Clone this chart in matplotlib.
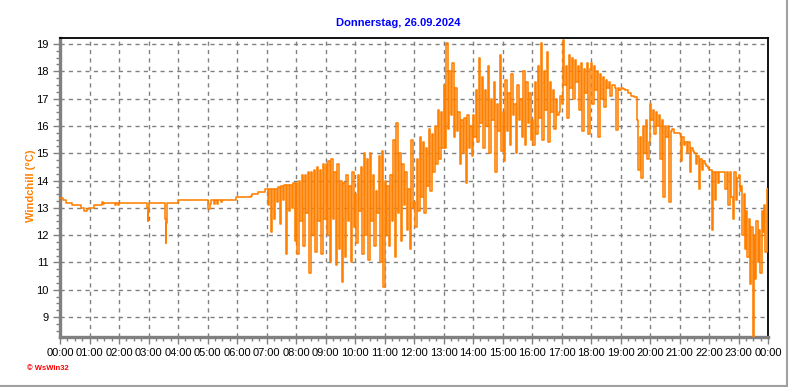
import matplotlib
matplotlib.use('Agg')
import matplotlib.pyplot as plt
from matplotlib.ticker import MultipleLocator
from matplotlib.lines import Line2D

titel = "Donnerstag, 26.09.2024"
y_titel = "Windchill (°C)"
copyright_text = "© WsWin32"

# ruhige Phase 00:00 - 07:00 (Uhrzeit und Wert)
ruhig_zeit = ["00:00", "00:06", "00:12", "00:24", "00:42", "00:49", "00:55", "00:59",
              "01:09", "01:26", "01:28", "01:30", "01:52", "01:54", "01:58", "02:00",
              "02:57", "02:58", "02:59", "03:00", "03:34", "03:35", "03:36", "03:37",
              "03:59", "05:00", "05:02", "05:05", "05:07", "05:14", "05:16", "05:20",
              "05:22", "05:27", "05:30", "05:58", "06:29", "06:31", "06:42", "06:56"]
ruhig_wert = [13.35, 13.30, 13.16, 13.09, 12.98, 12.88, 12.95, 13.00,
              13.10, 13.20, 13.15, 13.18, 13.12, 13.18, 13.12, 13.18,
              13.00, 12.50, 12.85, 13.18, 12.60, 11.72, 12.45, 13.18,
              13.27, 13.05, 12.95, 13.15, 13.27, 13.15, 13.27, 13.15,
              13.27, 13.20, 13.27, 13.40, 13.45, 13.50, 13.58, 13.68]

# unruhige Phase, ein Block je Stunde (gleichmaessig ueber die Stunde verteilt)
h07 = [13.7, 13.1, 13.7, 12.1, 13.7, 12.6, 13.7, 13.2, 13.75, 12.4,
       13.8, 13.3, 13.85, 11.3, 13.85, 12.9, 13.85, 13.0, 13.9, 11.8]
h08 = [13.9, 11.3, 14.0, 12.5, 14.2, 11.6, 14.2, 12.8, 14.3, 10.6,
       14.3, 12.0, 14.4, 11.4, 14.5, 12.5, 14.4, 11.3, 14.6, 12.6]
h09 = [14.6, 12.0, 14.7, 11.0, 14.8, 12.6, 14.3, 10.9, 14.6, 11.5,
       14.0, 10.3, 13.9, 11.2, 14.2, 12.5, 13.8, 11.0, 14.3, 12.3]
h10 = [13.5, 11.7, 14.2, 12.9, 14.5, 11.3, 15.0, 12.0, 14.8, 11.1,
       15.0, 12.5, 14.2, 11.6, 13.6, 12.8, 14.9, 11.0, 15.1, 10.1]
h11 = [14.0, 12.0, 13.8, 11.6, 14.2, 12.5, 15.5, 11.2, 16.1, 12.8,
       15.0, 11.8, 14.6, 13.1, 14.3, 12.2, 13.7, 11.5, 15.5, 13.0]
h12 = [13.2, 12.3, 14.8, 12.9, 15.6, 13.4, 15.4, 12.8, 15.2, 13.8,
       15.9, 13.6, 15.7, 14.3, 16.0, 14.6, 16.6, 14.8, 16.5, 15.2]
h13 = [17.5, 15.2, 19.05, 15.9, 18.0, 16.4, 18.3, 15.6, 17.4, 15.8,
       16.5, 14.6, 16.2, 15.0, 16.3, 13.9, 16.4, 15.2, 16.0, 14.9]
h14 = [16.4, 15.6, 17.3, 15.4, 18.5, 16.1, 17.8, 15.2, 17.3, 16.0,
       18.2, 15.0, 17.0, 16.2, 17.6, 14.3, 16.8, 15.8, 18.6, 15.1]
h15 = [16.5, 14.7, 17.7, 15.8, 17.2, 15.3, 17.9, 16.4, 16.8, 15.0,
       17.5, 16.2, 17.0, 15.6, 18.0, 15.3, 17.6, 16.1, 17.2, 15.5]
h16 = [16.2, 15.3, 17.6, 15.7, 18.2, 16.3, 19.05, 15.5, 18.0, 16.6,
       18.7, 15.4, 17.6, 16.5, 17.3, 15.9, 17.0, 16.4, 16.5, 17.1]
h17 = [16.8, 19.15, 17.5, 18.2, 16.3, 18.6, 17.4, 18.5, 17.0, 18.4,
       17.6, 18.2, 16.6, 18.3, 15.8, 18.1, 17.2, 18.3, 15.7, 18.1]
h18 = [18.3, 16.8, 18.2, 17.3, 18.0, 15.6, 17.9, 17.0, 17.8, 16.7,
       17.7, 17.4, 17.6, 17.1, 17.5, 17.5, 17.4, 15.85, 17.4, 17.3]
h19 = [17.4, 17.4, 17.35, 17.3, 17.3, 17.2, 17.2, 17.1, 17.1, 17.05,
       17.05, 16.2, 14.4, 15.6, 14.1, 16.0, 15.0, 16.2, 14.8, 15.4]
h20 = [16.8, 16.2, 16.6, 15.7, 16.5, 16.0, 16.4, 14.8, 16.2, 13.4,
       16.0, 15.6, 16.0, 13.2, 15.8, 15.9, 15.75, 15.75, 15.75, 15.75]
h21 = [15.7, 14.7, 15.6, 15.3, 15.4, 15.0, 15.4, 14.3, 15.2, 15.1,
       15.0, 14.6, 14.9, 13.7, 14.8, 14.4, 14.7, 14.6, 14.55, 14.45]
h22 = [14.4, 14.4, 12.2, 14.3, 13.3, 14.3, 13.9, 14.3, 14.3, 14.3,
       14.3, 13.7, 14.3, 13.1, 14.3, 13.4, 12.6, 14.3, 13.3, 14.1]
h23 = [14.2, 13.6, 13.8, 12.0, 13.5, 11.5, 12.9, 11.2, 12.6, 10.2,
       12.3, 8.0, 12.0, 10.4, 12.5, 11.0, 12.2, 10.6, 12.9, 12.1,
       13.1, 11.4, 13.7]
stunden = [h07, h08, h09, h10, h11, h12, h13, h14, h15, h16, h17, h18,
           h19, h20, h21, h22, h23]

x_labels = ["%02d:00" % (h % 24) for h in range(25)]

# Zeitachse in Stunden aufbauen
zeit = []
wert = []
for z, w in zip(ruhig_zeit, ruhig_wert):
    hh, mm = z.split(":")
    zeit.append(int(hh) + int(mm) / 60.0)
    wert.append(w)
for i, block in enumerate(stunden):
    for j, w in enumerate(block):
        zeit.append(7 + i + j / len(block))
        wert.append(w)
zeit.append(24.0)
wert.append(h23[-1])

fig = plt.figure(figsize=(7.92, 3.87), dpi=100, facecolor='white')
ax = fig.add_axes([60 / 792, 1 - 337 / 387, 708 / 792, 299 / 387])

ax.plot(zeit, wert, color='#ff8000', lw=1.15, drawstyle='steps-post', zorder=3)

ax.set_xlim(0, 24)
ax.set_ylim(8.27, 19.22)

ax.set_xticks(range(25))
ax.set_xticklabels(x_labels)
ax.xaxis.set_minor_locator(MultipleLocator(0.25))
ax.yaxis.set_major_locator(MultipleLocator(1))
ax.yaxis.set_minor_locator(MultipleLocator(0.25))

ax.grid(True, which='major', color='#808080', linestyle=(0, (3, 3)), lw=1.0, zorder=1)

for s in ['left', 'bottom']:
    ax.spines[s].set_color('#808080')
    ax.spines[s].set_linewidth(2.4)
for s in ['top', 'right']:
    ax.spines[s].set_color('black')
    ax.spines[s].set_linewidth(1.3)

ax.tick_params(which='major', length=5, width=1, color='#808080', pad=3,
               labelsize=8, labelcolor='black')
ax.tick_params(which='minor', length=3, width=1, color='#808080')
for lab in ax.get_xticklabels() + ax.get_yticklabels():
    lab.set_family('Liberation Sans')

fig.text(398 / 792, 1 - 23 / 387, titel, color='#0000ff', fontsize=8, fontweight='bold',
         family='Liberation Sans', ha='center', va='center')
fig.text(31 / 792, 1 - 186 / 387, y_titel, color='#ff8000', fontsize=8, fontweight='bold',
         family='Liberation Sans', ha='center', va='center', rotation=90)
fig.text(27 / 792, 1 - 368 / 387, copyright_text, color='#ff0000', fontsize=5.5,
         fontweight='bold', family='Liberation Sans', ha='left', va='center')

# grauer Rahmen rechts und unten
fig.add_artist(Line2D([0, 787 / 792], [1 / 387, 1 / 387], color='#a0a0a0', lw=1.5,
                      transform=fig.transFigure))
fig.add_artist(Line2D([787 / 792, 787 / 792], [1 / 387, 1], color='#a0a0a0', lw=1.5,
                      transform=fig.transFigure))

plt.savefig('out.png', dpi=100, facecolor='white')
